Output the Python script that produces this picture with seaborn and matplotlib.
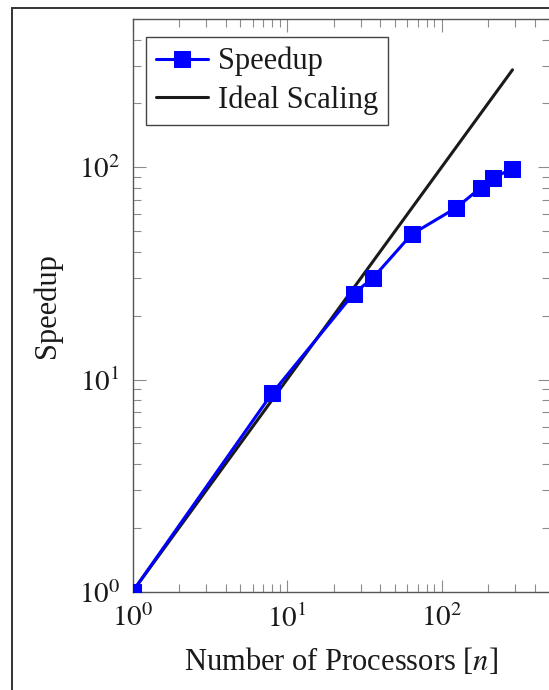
import matplotlib
matplotlib.use("Agg")
import matplotlib.pyplot as plt
from matplotlib.patches import Rectangle
from matplotlib.ticker import LogLocator, FixedLocator, FuncFormatter, NullFormatter
import numpy as np
import pandas as pd
import seaborn as sns

# Strong-scaling measurements
processors = [1, 8, 27, 36, 64, 125, 180, 216, 288]
speedup = [1.0, 8.6, 25.4, 30.1, 48.3, 64.6, 80.3, 89.2, 98.6]
ideal = [1, 8, 27, 36, 64, 125, 180, 216, 288]
axis_limits = (1, 500)
major_exponents = [0, 1, 2]

sns.set_style("ticks")
plt.rcParams["font.family"] = ["Liberation Serif", "DejaVu Serif"]
plt.rcParams["mathtext.fontset"] = "stix"

df_speed = pd.DataFrame({"n": processors, "s": speedup})
df_ideal = pd.DataFrame({"n": processors, "s": ideal})

W, H = 549, 690
fig = plt.figure(figsize=(W / 100, H / 100), dpi=100)
ax = fig.add_axes([132.5 / W, (H - 591.7) / H, 417 / W, (591.7 - 19) / H])

sns.lineplot(data=df_ideal, x="n", y="s", ax=ax, color="#1a1a1a", lw=2.2,
             label="Ideal Scaling", zorder=2, sort=False)
sns.lineplot(data=df_speed, x="n", y="s", ax=ax, color="#0000ff", lw=2.2,
             marker="s", markersize=11, markeredgecolor="#0000ff",
             label="Speedup", zorder=3, sort=False)

ax.set_xscale("log")
ax.set_yscale("log")
ax.set_xlim(*axis_limits)
ax.set_ylim(*axis_limits)

fmt = FuncFormatter(lambda v, p: r"$10^{%d}$" % round(np.log10(v)))
for axis in (ax.xaxis, ax.yaxis):
    axis.set_major_locator(FixedLocator([10 ** e for e in major_exponents]))
    axis.set_major_formatter(fmt)
    axis.set_minor_locator(LogLocator(base=10, subs=np.arange(2, 10), numticks=20))
    axis.set_minor_formatter(NullFormatter())

ax.tick_params(which="both", direction="in", top=True, right=True,
               color="#8c8c8c", width=0.8, labelsize=21, labelcolor="#1a1a1a")
ax.tick_params(which="major", length=9, pad=9)
ax.tick_params(which="minor", length=6.1)

for sp in ax.spines.values():
    sp.set_color("#555555")
    sp.set_linewidth(1.0)

ax.set_xlabel(r"Number of Processors [$n$]", fontsize=22, color="#1a1a1a", labelpad=10)
ax.set_ylabel("Speedup", fontsize=22, color="#1a1a1a", labelpad=12)

handles, labels = ax.get_legend_handles_labels()
order = [labels.index("Speedup"), labels.index("Ideal Scaling")]
leg = ax.legend([handles[i] for i in order], [labels[i] for i in order],
                loc="upper left", bbox_to_anchor=(0.0323, 0.969), borderaxespad=0,
                fontsize=22, frameon=True, fancybox=False, framealpha=1,
                edgecolor="#444444", handlelength=1.69, handletextpad=0.33,
                borderpad=0.33, labelspacing=0.3)
leg.get_frame().set_linewidth(1.0)
for t in leg.get_texts():
    t.set_color("#1a1a1a")

# page frame around the figure
fig.add_artist(Rectangle((11.5 / W, -0.05), 2, (H - 8) / H + 0.05,
                         transform=fig.transFigure, fill=False,
                         ec="#333333", lw=1.4))

fig.savefig("out.png", dpi=100)
